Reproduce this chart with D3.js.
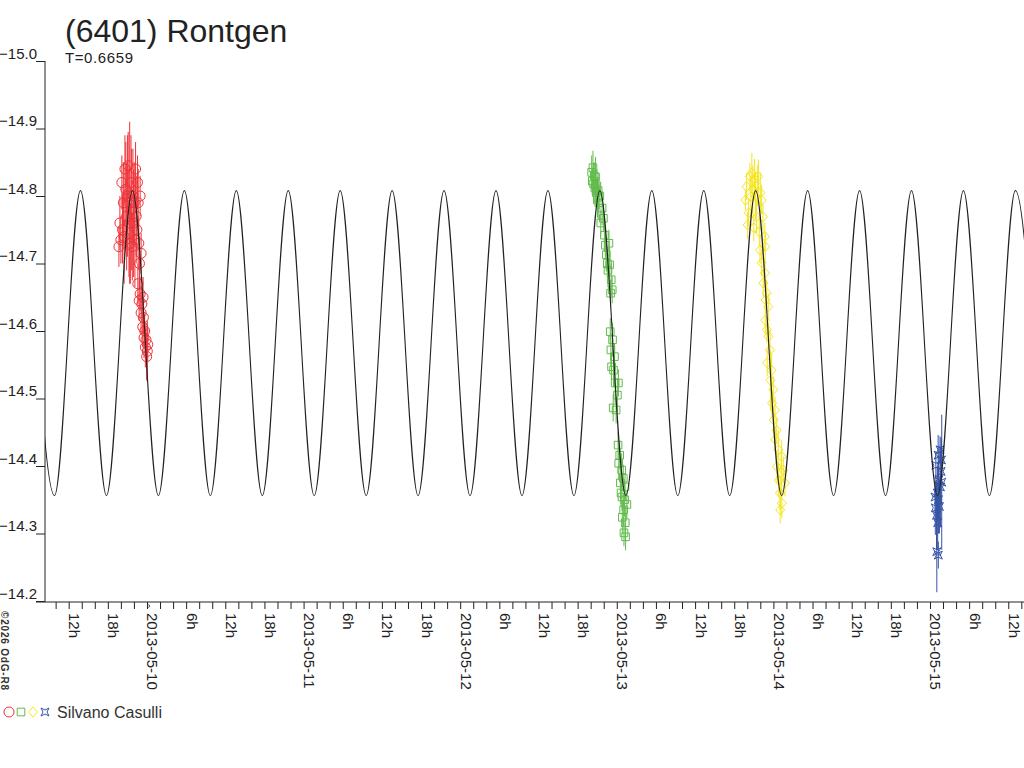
<!DOCTYPE html>
<html>
<head>
<meta charset="utf-8">
<script src="https://cdn.jsdelivr.net/npm/d3@7"></script>
<style>
body{margin:0;background:#fff;}
svg{display:block;font-family:"Liberation Sans",Arial,sans-serif;}
</style>
</head>
<body>
<script>
// all times are hours counted from 2013-05-10 00:00 UT
const baseDay = Date.UTC(2013, 4, 10);
const timeStart = -15.63, timeEnd = 134.41;
const magTicks = [-15.0, -14.9, -14.8, -14.7, -14.6, -14.5, -14.4, -14.3, -14.2];

// model lightcurve: maxima and minima
const curvePeakHours = [-18.15,-10.19,-2.23,5.73,13.69,21.65,29.61,37.57,45.53,53.49,61.45,69.41,77.37,85.33,93.29,101.25,109.21,117.17,125.13,133.09];
const curveTroughHours = [-14.17,-6.21,1.75,9.71,17.67,25.63,33.59,41.55,49.51,57.47,65.43,73.39,81.35,89.31,97.27,105.23,113.19,121.15,129.11,137.07];
const curvePeakMag = -14.808, curveTroughMag = -14.356;

// session 1 (red circles)
const redHours = [-4.30,-4.15,-4.00,-3.85,-3.75,-3.62,-3.50,-3.38,-3.25,-3.12,-3.00,-2.88,-2.76,-2.65,-2.55,-2.45,-2.35,-2.25,-2.15,-2.05,-1.95,-1.85,-1.75,-1.65,-1.55,-1.45,-1.35,-1.25,-1.15,-1.05,-0.90,
  -1.40,-1.20,-1.05,-0.90,-0.78,-0.65,-0.60,-0.55,-0.45,-0.35,-0.25,-0.15,-0.05,0.05,0.12];
const redMags = [-14.725,-14.760,-14.735,-14.820,-14.750,-14.790,-14.740,-14.840,-14.810,-14.770,-14.800,-14.845,-14.760,-14.790,-14.730,-14.820,-14.780,-14.725,-14.800,-14.760,-14.790,-14.735,-14.840,-14.770,-14.750,-14.820,-14.790,-14.730,-14.700,-14.800,-14.715,
  -14.670,-14.645,-14.655,-14.627,-14.640,-14.606,-14.650,-14.620,-14.590,-14.600,-14.576,-14.587,-14.562,-14.570,-14.580];
const redErrs = [0.030,0.040,0.035,0.040,0.050,0.060,0.070,0.050,0.070,0.080,0.090,0.050,0.080,0.120,0.060,0.070,0.090,0.050,0.070,0.080,0.060,0.070,0.040,0.060,0.050,0.040,0.050,0.040,0.040,0.030,0.030,
  0.030,0.030,0.025,0.030,0.025,0.030,0.030,0.025,0.030,0.025,0.030,0.025,0.035,0.045,0.025];

// session 2 (green squares)
const greenHours = [68.15,68.25,68.35,68.45,68.55,68.65,68.75,68.85,68.95,69.05,69.15,69.25,69.40,
  69.55,69.75,69.95,70.10,70.25,70.40,70.55,70.65,70.80,70.90,71.05,71.15,71.30,
  71.00,71.10,71.20,71.35,71.45,71.50,71.65,71.75,71.90,72.10,72.25,
  72.20,72.30,72.45,72.55,72.65,72.75,72.80,72.85,73.00,73.05,73.10,73.20,73.26,73.30,73.35,73.55];
const greenMags = [-14.835,-14.822,-14.842,-14.818,-14.830,-14.812,-14.828,-14.805,-14.815,-14.798,-14.808,-14.790,-14.800,
  -14.760,-14.782,-14.767,-14.742,-14.727,-14.713,-14.700,-14.690,-14.730,-14.698,-14.656,-14.676,-14.661,
  -14.599,-14.572,-14.547,-14.587,-14.486,-14.542,-14.562,-14.523,-14.483,-14.505,-14.523,
  -14.431,-14.404,-14.416,-14.375,-14.360,-14.394,-14.354,-14.324,-14.382,-14.335,-14.301,-14.350,-14.369,-14.316,-14.295,-14.343];
const greenErrs = [0.025,0.020,0.025,0.030,0.020,0.025,0.030,0.020,0.025,0.030,0.020,0.025,0.020,
  0.020,0.025,0.020,0.025,0.020,0.025,0.020,0.025,0.020,0.025,0.020,0.025,0.020,
  0.020,0.025,0.020,0.025,0.020,0.025,0.020,0.030,0.020,0.025,0.020,
  0.020,0.025,0.020,0.025,0.020,0.025,0.020,0.025,0.020,0.025,0.020,0.025,0.020,0.025,0.020,0.020];

// session 3 (yellow diamonds)
const yellowHours = [91.70,91.90,92.05,92.20,92.40,92.55,92.70,92.85,93.00,93.10,93.25,93.40,93.55,93.70,93.85,94.00,94.20,94.40,94.70,
  93.95,94.75,94.21,94.71,94.45,94.97,94.80,95.22,94.75,95.00,95.25,95.48,95.05,95.74,95.55,95.99,95.80,96.25,96.05,96.51,96.30,
  96.75,97.27,96.55,97.52,96.80,97.78,97.01,97.30,97.05,97.20];
const yellowMags = [-14.794,-14.814,-14.757,-14.775,-14.829,-14.799,-14.834,-14.810,-14.753,-14.825,-14.800,-14.769,-14.815,-14.829,-14.747,-14.805,-14.794,-14.769,-14.740,
  -14.720,-14.725,-14.701,-14.686,-14.671,-14.656,-14.646,-14.636,-14.616,-14.602,-14.592,-14.572,-14.553,-14.542,-14.527,-14.513,-14.493,-14.483,-14.468,-14.453,-14.439,
  -14.424,-14.414,-14.399,-14.394,-14.379,-14.375,-14.360,-14.345,-14.335,-14.390];
const yellowErrs = [0.015,0.020,0.020,0.020,0.020,0.030,0.030,0.035,0.020,0.030,0.035,0.025,0.030,0.025,0.020,0.030,0.020,0.020,0.020,
  0.020,0.020,0.020,0.020,0.020,0.020,0.020,0.020,0.020,0.020,0.020,0.030,0.020,0.025,0.045,0.020,0.020,0.020,0.020,0.020,0.020,
  0.030,0.025,0.025,0.020,0.025,0.020,0.025,0.022,0.020,0.035];

// session 4 (blue stars)
const blueHours = [120.78,120.82,120.90,121.00,121.05,121.12,121.18,121.25,121.28,121.30,121.38,121.45,121.54,121.60,121.70,121.80,121.76];
const blueMags = [-14.354,-14.338,-14.401,-14.327,-14.273,-14.360,-14.316,-14.416,-14.268,-14.350,-14.380,-14.340,-14.424,-14.369,-14.392,-14.376,-14.409];
const blueErrs = [0.030,0.040,0.020,0.050,0.060,0.040,0.040,0.030,0.020,0.050,0.050,0.040,0.020,0.060,0.050,0.100,0.030];

const observer = "Silvano Casulli";

const w = 1024, h = 768;
const hourToDate = hr => new Date(baseDay + hr * 3600000);

const svg = d3.select("body").append("svg")
  .attr("width", w)
  .attr("height", h);

// scales
const x = d3.scaleUtc()
  .domain([hourToDate(timeStart), hourToDate(timeEnd)])
  .range([45, 1024]);
const y = d3.scaleLinear()
  .domain([-15.0, -14.2])
  .range([61, 601]);

// axes
const yAxis = d3.axisLeft(y).tickValues(magTicks).tickSize(9).tickSizeOuter(0)
  .tickFormat(d3.format(".1f"));
const gy = svg.append("g").attr("transform", "translate(45,0)").call(yAxis);
gy.select(".domain").remove();
gy.selectAll("line").attr("stroke", "#222");
gy.selectAll("text")
  .attr("x", -8).attr("dy", "-0.18em")
  .attr("fill", "#222").style("font-size", "15px")
  .style("font-family", "'Liberation Sans',Arial,sans-serif");

svg.append("line").attr("x1", 45).attr("x2", 45).attr("y1", y(-15.0)).attr("y2", 602)
  .attr("stroke", "#222");

const dayFmt = d3.utcFormat("%Y-%m-%d");
const xAxis = d3.axisBottom(x).ticks(d3.utcHour.every(2)).tickSize(7).tickSizeOuter(0)
  .tickFormat(d => {
    const hr = d.getUTCHours();
    if (hr === 0) return dayFmt(d);
    if (hr % 6 === 0) return hr + "h";
    return "";
  });
const gx = svg.append("g").attr("transform", "translate(0,602)").call(xAxis);
gx.select(".domain").remove();
gx.selectAll("line").attr("stroke", "#222");
gx.selectAll("text")
  .attr("transform", "rotate(90)")
  .attr("x", 11).attr("y", 0).attr("dy", "0")
  .style("text-anchor", "start")
  .attr("fill", "#222").style("font-size", "15px")
  .style("font-family", "'Liberation Sans',Arial,sans-serif");

svg.append("line").attr("x1", 36).attr("x2", 1024).attr("y1", 602).attr("y2", 602)
  .attr("stroke", "#222");
// small mark at the first day tick
svg.append("circle").attr("cx", x(hourToDate(0)) + 1.5).attr("cy", 606).attr("r", 1.2)
  .attr("fill", "none").attr("stroke", "#333").attr("stroke-width", 0.8);

// symbol shapes
const shapes = {
  circle: "M5,0A5,5,0,1,1,-5,0A5,5,0,1,1,5,0Z",
  square: "M-3.8,-3.8H3.8V3.8H-3.8Z",
  diamond: "M0,-5L4.5,0L0,5L-4.5,0Z",
  star: "M-4,-4L0,-2L4,-4L2,0L4,4L0,2L-4,4L-2,0Z"
};

const sessions = [
  {hours: redHours, mags: redMags, errs: redErrs, color: "#ee3338", shape: "circle"},
  {hours: greenHours, mags: greenMags, errs: greenErrs, color: "#62bb4c", shape: "square"},
  {hours: yellowHours, mags: yellowMags, errs: yellowErrs, color: "#f4e51c", shape: "diamond"},
  {hours: blueHours, mags: blueMags, errs: blueErrs, color: "#3653a5", shape: "star"}
];

const plot = svg.append("g");
sessions.forEach(s => {
  const pts = s.hours.map((hr, i) => ({t: hourToDate(hr), m: s.mags[i], e: s.errs[i]}));
  const g = plot.append("g");
  g.selectAll("line.err")
    .data(pts)
    .enter()
    .append("line")
    .attr("class", "err")
    .attr("x1", d => x(d.t)).attr("x2", d => x(d.t))
    .attr("y1", d => y(d.m - d.e)).attr("y2", d => y(d.m + d.e))
    .attr("stroke", s.color).attr("stroke-width", 1);
  g.selectAll("path.pt")
    .data(pts)
    .enter()
    .append("path")
    .attr("class", "pt")
    .attr("d", shapes[s.shape])
    .attr("transform", d => "translate(" + x(d.t) + "," + y(d.m) + ")")
    .attr("fill", "none").attr("stroke", s.color).attr("stroke-width", 1);
});

// model curve
const curvePts = curvePeakHours.map(hr => ({t: hourToDate(hr), m: curvePeakMag}))
  .concat(curveTroughHours.map(hr => ({t: hourToDate(hr), m: curveTroughMag})))
  .sort((a, b) => a.t - b.t);

svg.append("clipPath").attr("id", "clip")
  .append("rect").attr("x", 45).attr("y", 0).attr("width", 979).attr("height", 602);

svg.append("path")
  .datum(curvePts)
  .attr("clip-path", "url(#clip)")
  .attr("fill", "none")
  .attr("stroke", "#222")
  .attr("stroke-width", 1.1)
  .attr("d", d3.line().x(d => x(d.t)).y(d => y(d.m)).curve(d3.curveMonotoneX));

// titles
svg.append("text").attr("x", 65).attr("y", 42)
  .style("font-size", "32px").attr("fill", "#222")
  .text("(6401) Rontgen");
svg.append("text").attr("x", 65).attr("y", 63)
  .style("font-size", "15px").style("letter-spacing", "0.6px").attr("fill", "#222")
  .text("T=0.6659");

// copyright, rotated
svg.append("text")
  .attr("transform", "translate(1,611) rotate(90)")
  .style("font-size", "10px").style("letter-spacing", "0.8px").style("font-weight", "bold").attr("fill", "#333")
  .text("©2026 OdG-R8");

// legend
const leg = svg.append("g").attr("transform", "translate(0,712)");
sessions.forEach((s, i) => {
  leg.append("path")
    .attr("d", shapes[s.shape])
    .attr("transform", "translate(" + (9 + i * 12) + ",0)")
    .attr("fill", "none").attr("stroke", s.color).attr("stroke-width", 1);
});
leg.append("text").attr("x", 57).attr("y", 6)
  .style("font-size", "16px").attr("fill", "#333")
  .text(observer);
</script>
</body>
</html>
